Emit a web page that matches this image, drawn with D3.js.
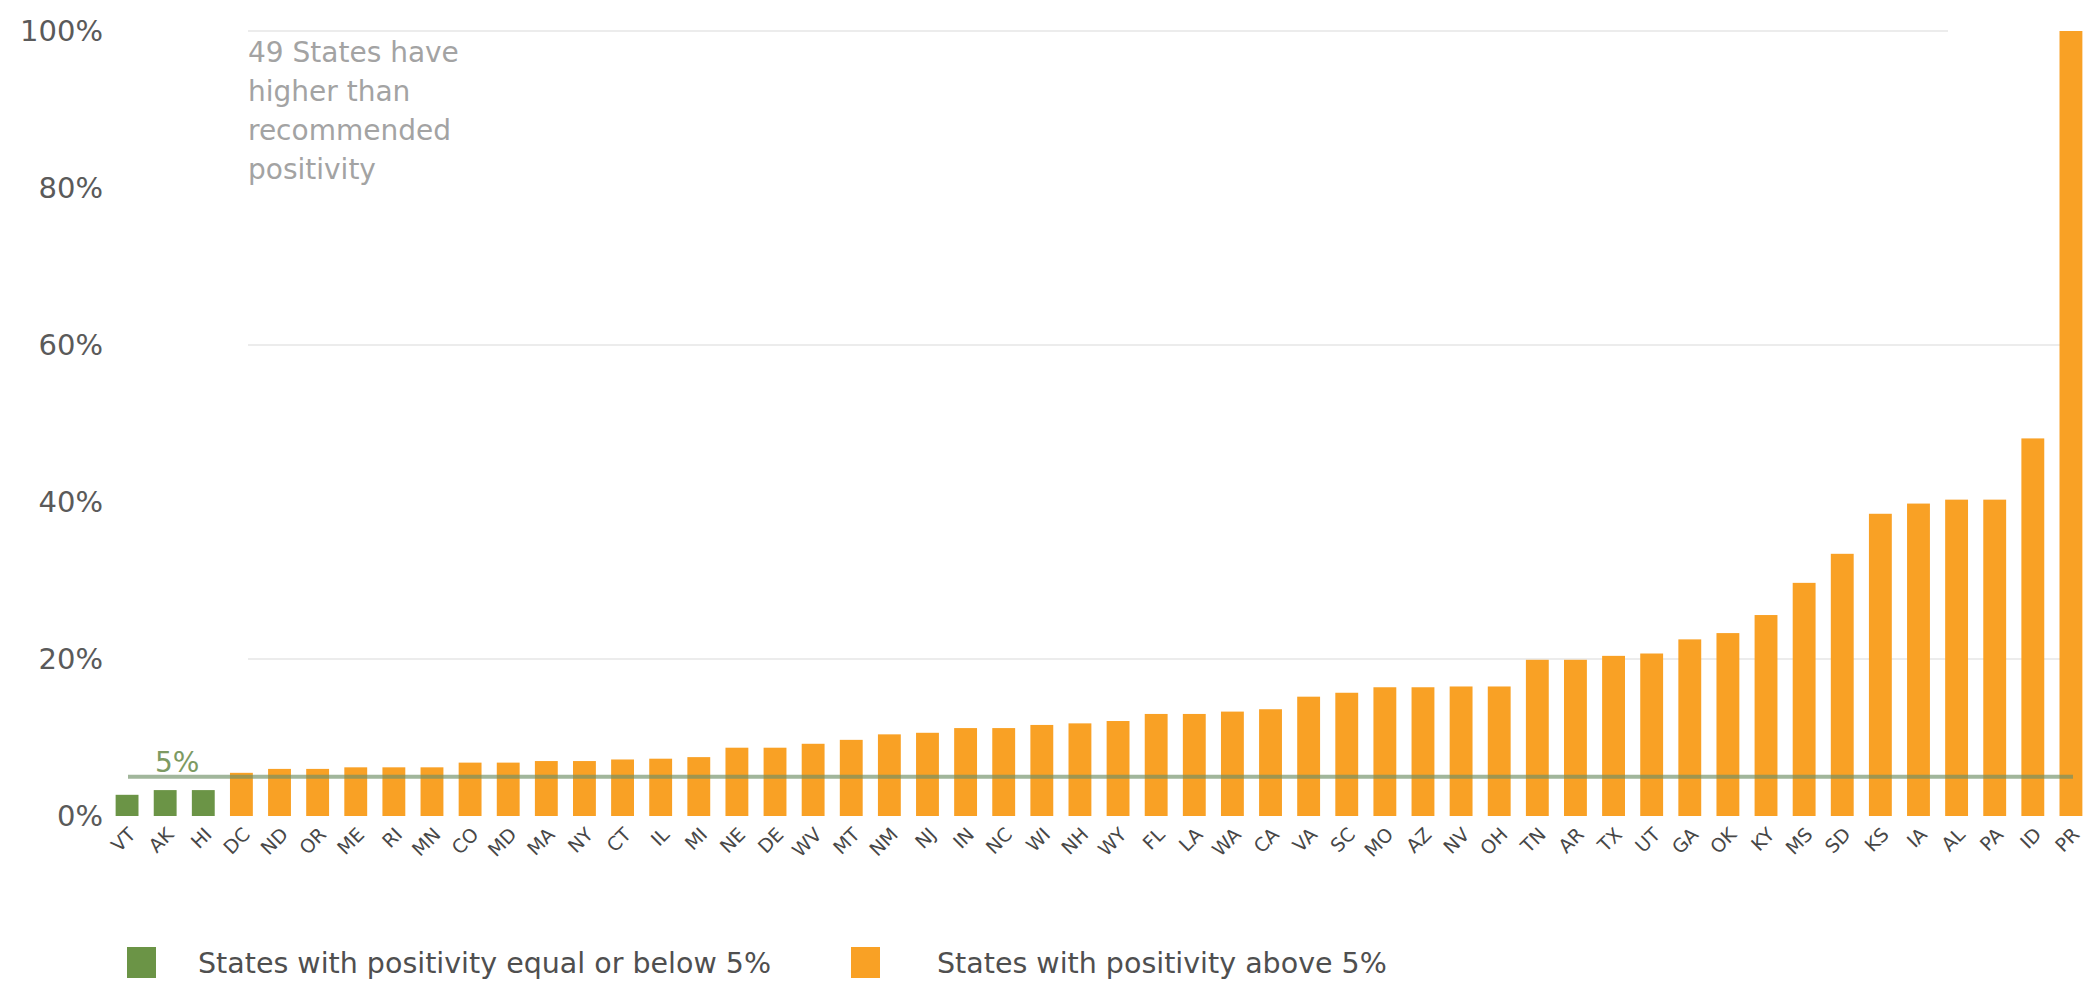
<!DOCTYPE html>
<html>
<head>
<meta charset="utf-8">
<script src="https://cdn.jsdelivr.net/npm/d3@7"></script>
<style>
  html, body { margin: 0; padding: 0; background: #ffffff; }
  svg { display: block; }
  text { font-family: "DejaVu Sans", Verdana, sans-serif; }
</style>
</head>
<body>
<svg id="chart" width="2098" height="982"></svg>
<script>
const states = ["VT","AK","HI","DC","ND","OR","ME","RI","MN","CO","MD","MA","NY","CT","IL","MI","NE","DE","WV","MT","NM","NJ","IN","NC","WI","NH","WY","FL","LA","WA","CA","VA","SC","MO","AZ","NV","OH","TN","AR","TX","UT","GA","OK","KY","MS","SD","KS","IA","AL","PA","ID","PR"];
const positivity = [2.7,3.3,3.3,5.5,6.0,6.0,6.2,6.2,6.2,6.8,6.8,7.0,7.0,7.2,7.3,7.5,8.7,8.7,9.2,9.7,10.4,10.6,11.2,11.2,11.6,11.8,12.1,13.0,13.0,13.3,13.6,15.2,15.7,16.4,16.4,16.5,16.5,19.9,19.9,20.4,20.7,22.5,23.3,25.6,29.7,33.4,38.5,39.8,40.3,40.3,48.1,100];
const yTicks = [0,20,40,60,80,100];
const gridTicks = [20,60,100];
const threshold = 5;
const annotationLines = ["49 States have","higher than","recommended","positivity"];
const legendLabels = ["States with positivity equal or below 5%","States with positivity above 5%"];

const GREEN = "#6b9446", ORANGE = "#f9a125";

const svg = d3.select("#chart");
const x = d3.scaleBand().domain(states).range([108, 2090]).paddingInner(0.4).paddingOuter(0.2);
const y = d3.scaleLinear().domain([0, 100]).range([816, 31]);

// gridlines (only the faint ones visible in the reference)
svg.append("g").selectAll("line").data(gridTicks).join("line")
  .attr("x1", 248).attr("x2", d => d === 100 ? 1948 : 2060)
  .attr("y1", d => y(d)).attr("y2", d => y(d))
  .attr("stroke", "#ececec").attr("stroke-width", 2);

// y axis labels
const yAxis = d3.axisLeft(y).tickValues(yTicks).tickFormat(d => d + "%").tickSize(0).tickPadding(0);
const gy = svg.append("g").attr("transform", "translate(103,0)").call(yAxis);
gy.select(".domain").remove();
gy.selectAll("text").attr("font-size", 29).attr("fill", "#5a5a5a")
  .style("font-family", "'DejaVu Sans', Verdana, sans-serif");

// bars
svg.append("g").selectAll("rect").data(states).join("rect")
  .attr("x", d => x(d)).attr("width", x.bandwidth())
  .attr("y", (d, i) => y(positivity[i]))
  .attr("height", (d, i) => y(0) - y(positivity[i]))
  .attr("fill", (d, i) => positivity[i] <= threshold ? GREEN : ORANGE);

// threshold line
svg.append("line")
  .attr("x1", 128).attr("x2", 2073)
  .attr("y1", y(threshold)).attr("y2", y(threshold))
  .attr("stroke", "#6f8f66").attr("stroke-opacity", 0.65).attr("stroke-width", 4);
svg.append("text").attr("x", 155).attr("y", y(threshold) - 5)
  .attr("font-size", 28).attr("fill", "#7d9a63").text(threshold + "%");

// x labels
const xAxis = d3.axisBottom(x).tickSize(0).tickPadding(0);
const gx = svg.append("g").call(xAxis);
gx.select(".domain").remove();
gx.selectAll(".tick").attr("transform", d => `translate(${x(d) + x.bandwidth() / 2 + 5},831)`);
gx.selectAll("text")
  .attr("transform", "rotate(-45)")
  .attr("text-anchor", "end").attr("dy", "0.35em").attr("y", 0)
  .attr("font-size", 19).attr("fill", "#474747")
  .style("font-family", "'DejaVu Sans', Verdana, sans-serif");

// annotation
svg.append("g").selectAll("text").data(annotationLines).join("text")
  .attr("x", 248).attr("y", (d, i) => 62 + i * 39)
  .attr("font-size", 28).attr("fill", "#a3a3a3").text(d => d);

// legend
const legend = svg.append("g");
const legendItems = [
  {label: legendLabels[0], color: GREEN, rx: 127, tx: 198},
  {label: legendLabels[1], color: ORANGE, rx: 851, tx: 937}
];
legend.selectAll("rect").data(legendItems).join("rect")
  .attr("x", d => d.rx).attr("y", 947).attr("width", 29).attr("height", 31)
  .attr("fill", d => d.color);
legend.selectAll("text").data(legendItems).join("text")
  .attr("x", d => d.tx).attr("y", 973)
  .attr("font-size", 28.5).attr("fill", "#4f4f4f").text(d => d.label);
</script>
</body>
</html>
